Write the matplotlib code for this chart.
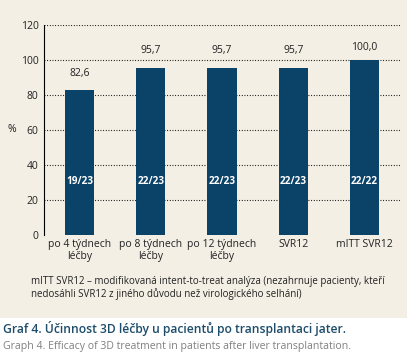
import matplotlib.pyplot as plt
from matplotlib.patches import Rectangle

# data
categories = ['po 4 týdnech\nléčby', 'po 8 týdnech\nléčby', 'po 12 týdnech\nléčby',
              'SVR12', 'mITT SVR12']
values = [82.6, 95.7, 95.7, 95.7, 100.0]
value_labels = ['82,6', '95,7', '95,7', '95,7', '100,0']
counts = ['19/23', '22/23', '22/23', '22/23', '22/22']
yticks = [0, 20, 40, 60, 80, 100, 120]

bg = '#f4efe5'
bar_col = '#0b4268'
plt.rcParams['font.family'] = ['Open Sans', 'DejaVu Sans']

fig = plt.figure(figsize=(4.11, 3.58), dpi=100)
fig.patch.set_facecolor('white')
# beige panel behind the chart
fig.patches.append(Rectangle((0, 1 - 318 / 358), 407 / 411, 318 / 358,
                             transform=fig.transFigure, facecolor=bg,
                             edgecolor='none', zorder=-5))

ax = fig.add_axes([44 / 411, 1 - 235 / 358, 356 / 411, 210 / 358])
ax.set_zorder(2)
ax.set_facecolor('none')
x = range(len(categories))
ax.bar(x, values, width=0.41, color=bar_col, zorder=3)

for i, v in enumerate(values):
    ax.text(i, min(v + 9.5, 107), value_labels[i], ha='center', va='center',
            fontsize=7.5, color='#222222')
    ax.text(i, 30.5, counts[i], ha='center', va='center', fontsize=7.2,
            color='white', fontweight='bold', zorder=4)

ax.set_xlim(-0.5, 4.5)
ax.set_ylim(0, 120)
ax.set_yticks(yticks)
ax.set_xticks(list(x))
ax.set_xticklabels(categories, fontsize=7.5, color='#222222', linespacing=1.1)
ax.tick_params(axis='y', length=0, labelsize=7.5, labelcolor='#222222', pad=4)
ax.tick_params(axis='x', length=0, pad=3)
for t in yticks[1:]:
    ax.axhline(t, color='black', linestyle=(0, (0.8, 1.6)), linewidth=0.8, zorder=1)
for s in ['top', 'right', 'bottom']:
    ax.spines[s].set_visible(False)
ax.spines['left'].set_linewidth(0.8)
ax.set_ylabel('%', rotation=0, fontsize=7.5, color='#222222', va='center')
ax.yaxis.set_label_coords(-0.09, 0.5)

fig.text(31 / 411, 1 - 288 / 358,
         'mITT SVR12 – modifikovaná intent-to-treat analýza (nezahrnuje pacienty, kteří\n'
         'nedosáhli SVR12 z jiného důvodu než virologického selhání)',
         fontsize=7.05, color='#222222', va='center', linespacing=1.2)
fig.text(3 / 411, 1 - 329 / 358,
         'Graf 4. Účinnost 3D léčby u pacientů po transplantaci jater.',
         fontsize=8.7, color='#1d4d6b', fontweight='semibold', va='center')
fig.text(3 / 411, 1 - 346 / 358,
         'Graph 4. Efficacy of 3D treatment in patients after liver transplantation.',
         fontsize=7.6, color='#808080', va='center')

fig.savefig('out.png', dpi=100)
